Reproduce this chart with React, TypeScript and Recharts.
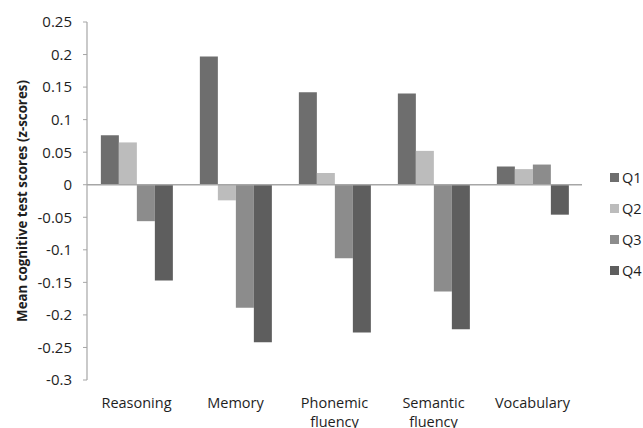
import React from 'react'
import { Bar, BarChart, ReferenceLine, XAxis, YAxis } from 'recharts'

const categories = ['Reasoning', 'Memory', 'Phonemic fluency', 'Semantic fluency', 'Vocabulary']
const q1 = [0.076, 0.197, 0.142, 0.14, 0.028]
const q2 = [0.065, -0.024, 0.018, 0.052, 0.024]
const q3 = [-0.056, -0.189, -0.113, -0.164, 0.031]
const q4 = [-0.147, -0.242, -0.227, -0.222, -0.046]
const yTicks = [-0.3, -0.25, -0.2, -0.15, -0.1, -0.05, 0, 0.05, 0.1, 0.15, 0.2, 0.25]

const series = [
	{ key: 'Q1', values: q1, color: '#6e6e6e' },
	{ key: 'Q2', values: q2, color: '#bcbcbc' },
	{ key: 'Q3', values: q3, color: '#8c8c8c' },
	{ key: 'Q4', values: q4, color: '#5e5e5e' },
]

const data = categories.map((name, i) => {
	const row: Record<string, string | number> = { name }
	series.forEach((s) => (row[s.key] = s.values[i]))
	return row
})

const FONT = '"Open Sans", "Noto Sans", sans-serif'

const CategoryTick = ({ x, y, payload }: any) => {
	const words = String(payload.value).split(' ')
	return (
		<text
			x={x}
			y={y}
			textAnchor='middle'
			fill='#1e1e1e'
			fontSize={14.5}
			fontFamily={FONT}
		>
			{words.map((w, i) => (
				<tspan key={i} x={x} dy={i === 0 ? 20 : 19}>
					{w}
				</tspan>
			))}
		</text>
	)
}

export default function App() {
	return (
		<div
			style={{
				position: 'absolute',
				left: 0,
				top: 0,
				width: 643,
				height: 428,
				background: '#fff',
				fontFamily: FONT,
			}}
		>
			<BarChart
				width={643}
				height={428}
				data={data}
				margin={{ top: 22, right: 61, bottom: 0, left: 0 }}
				barCategoryGap='14%'
				barGap={0}
			>
				<XAxis
					dataKey='name'
					axisLine={false}
					tickLine={false}
					tick={<CategoryTick />}
					interval={0}
					height={48}
				/>
				<YAxis
					width={87}
					domain={[-0.3, 0.25]}
					ticks={yTicks}
					interval={0}
					tickFormatter={(v: number) => String(Number(v.toFixed(2)))}
					axisLine={{ stroke: '#a6a6a6', strokeWidth: 1.2 }}
					tickLine={{ stroke: '#a6a6a6' }}
					tickSize={4}
					tickMargin={11}
					tick={{ fill: '#1e1e1e', fontSize: 15, fontFamily: FONT }}
					label={{
						value: 'Mean cognitive test scores (z-scores)',
						angle: -90,
						position: 'insideLeft',
						offset: 22,
						style: {
							textAnchor: 'middle',
							fontWeight: 'bold',
							fontSize: 13.3,
							fill: '#1e1e1e',
							fontFamily: FONT,
						},
					}}
				/>
				{series.map((s) => (
					<Bar key={s.key} dataKey={s.key} fill={s.color} isAnimationActive={false} />
				))}
				<ReferenceLine y={0} stroke='#a6a6a6' strokeWidth={1.5} />
			</BarChart>
			{series.map((s, i) => (
				<div
					key={s.key}
					style={{
						position: 'absolute',
						left: 610,
						top: 168 + i * 31,
						height: 18,
						display: 'flex',
						alignItems: 'center',
						fontSize: 14.5,
						color: '#1e1e1e',
					}}
				>
					<span
						style={{
							display: 'inline-block',
							width: 9,
							height: 9,
							background: s.color,
							marginRight: 3,
						}}
					/>
					{s.key}
				</div>
			))}
		</div>
	)
}
